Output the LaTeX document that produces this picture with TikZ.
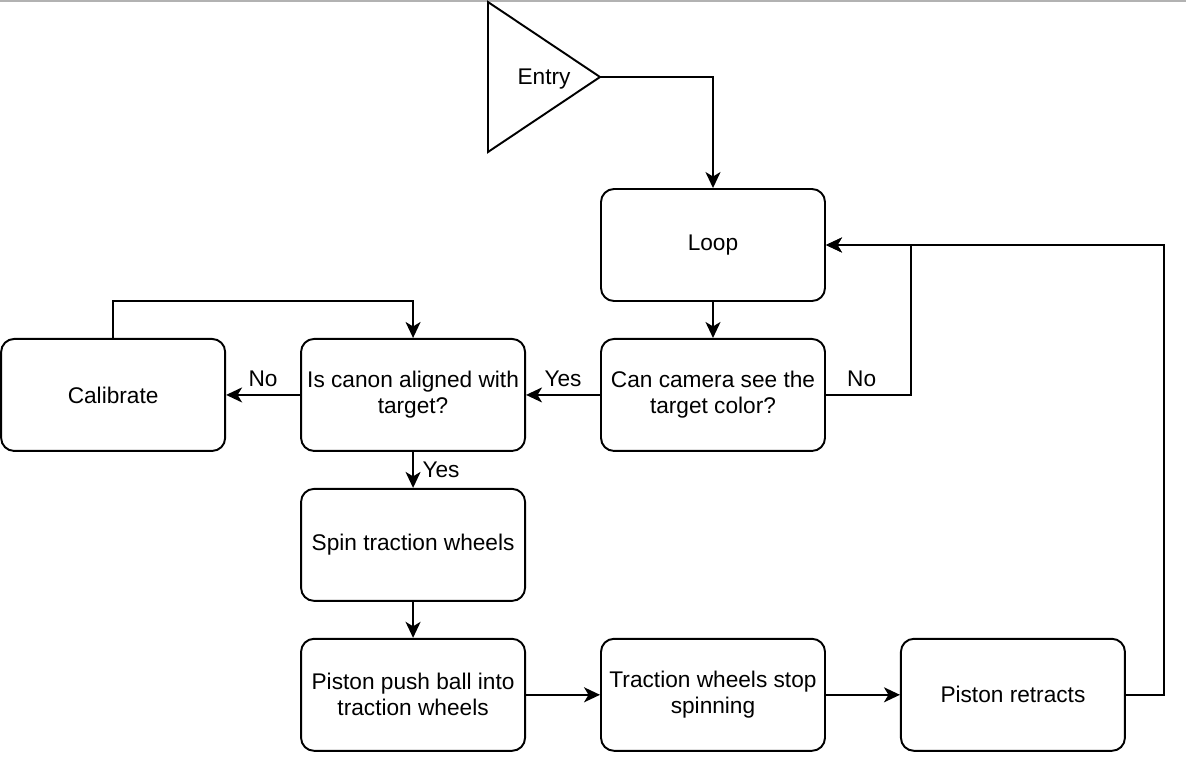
\documentclass[tikz,border=0pt]{standalone}
\usepackage{fontspec}
\setmainfont{Liberation Sans}
\usetikzlibrary{positioning, arrows.meta}

\begin{document}
\begin{tikzpicture}[
            box/.style={rectangle, draw=black, fill=white, line width=1.1pt,
                        minimum width=4.48cm, minimum height=2.24cm, inner sep=0.04cm,
                        align=center, rounded corners=0.26cm,
                        font=\fontsize{12.9}{14.8}\selectfont},
            arrow/.style={-{Stealth[length=0.32cm, width=0.3cm, inset=0.09cm]}, line width=1.1pt},
            line/.style={line width=1.1pt},
            lbl/.style={font=\fontsize{12.9}{14.8}\selectfont, inner sep=2pt}
        ]
            \useasboundingbox (0,0) rectangle (23.72,-15.52);
            \draw[gray!60, line width=0.8pt] (0,-0.02) -- (23.72,-0.02);

            % entry triangle
            \coordinate (tip) at (12,-1.54);
            \draw[line] (9.76,-0.04) -- (tip) -- (9.76,-3.04) -- cycle;
            \node[lbl] (entry) at (10.88,-1.58) {Entry};

            \node[box] (loop) at (14.26,-4.9) {Loop};
            \node[box, below=0.72cm of loop] (camera) {Can camera see the\\target color?};
            \node[box, left=1.48cm of camera] (aligned) {Is canon aligned with\\target?};
            \node[box, left=1.48cm of aligned] (calibrate) {Calibrate};
            \node[box, below=0.72cm of aligned] (spin) {Spin traction wheels};
            \node[box, below=0.72cm of spin] (push) {Piston push ball into\\traction wheels};
            \node[box, right=1.48cm of push] (stop) {Traction wheels stop\\spinning};
            \node[box, right=1.48cm of stop] (retract) {Piston retracts};

            \draw[arrow] (tip) -| (loop.north);
            \draw[arrow] (loop) -- (camera);
            \draw[arrow] (camera) -- (aligned) node[midway, above, lbl, yshift=2pt] {Yes};
            \draw[arrow] (camera.east) -- ++(1.7cm,0) node[pos=0.42, above, lbl, yshift=2pt] {No} |- (loop.east);
            \draw[arrow] (aligned) -- (calibrate) node[midway, above, lbl, yshift=2pt] {No};
            \draw[arrow] (calibrate.north) -- ++(0,0.74cm) -| (aligned.north);
            \draw[arrow] (aligned) -- (spin) node[midway, right, lbl, xshift=0.1cm] {Yes};
            \draw[arrow] (spin) -- (push);
            \draw[arrow] (push) -- (stop);
            \draw[arrow] (stop) -- (retract);
            \draw[arrow] (retract.east) -- ++(0.76cm,0) |- (loop.east);
        \end{tikzpicture}
\end{document}
